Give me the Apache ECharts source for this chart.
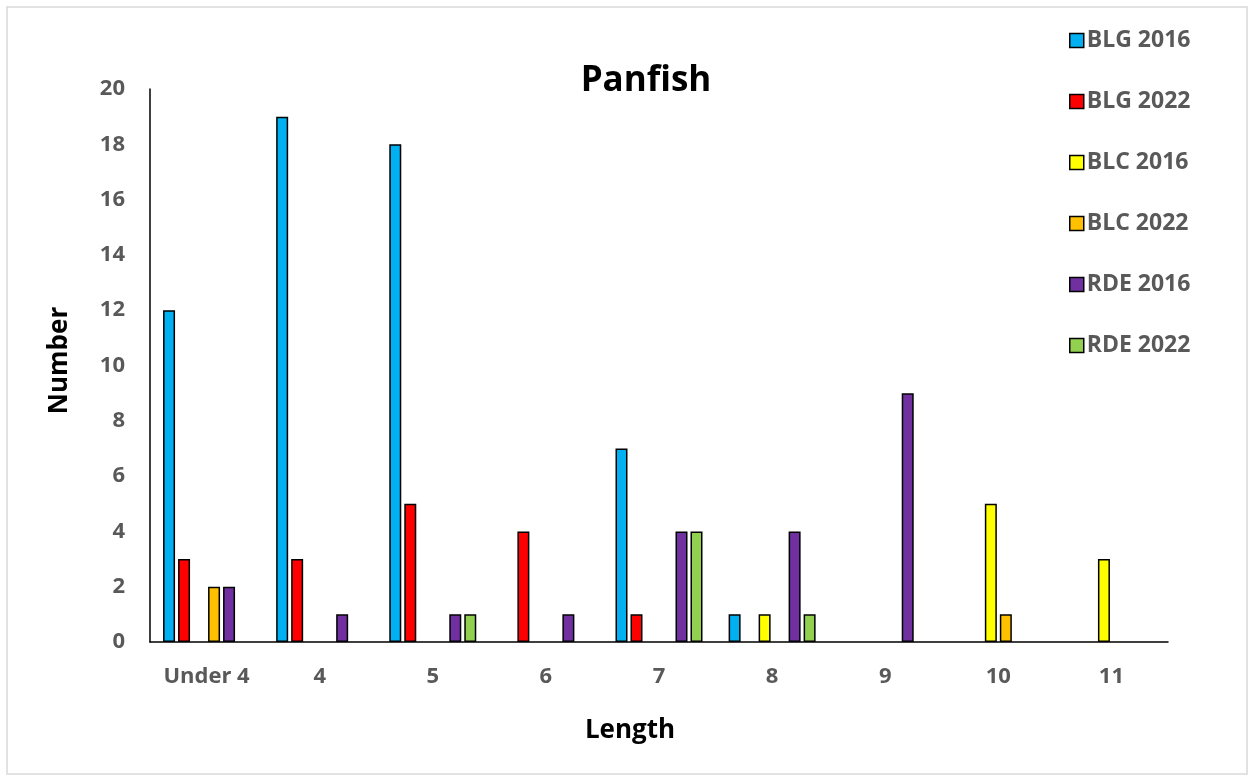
<!DOCTYPE html>
<html>
<head>
<meta charset="utf-8">
<script src="https://cdn.jsdelivr.net/npm/echarts@6/dist/echarts.min.js"></script>
<style>html,body{margin:0;padding:0;background:#fff;}#c{width:1253px;height:781px;}</style>
</head>
<body>
<div id="c"></div>
<script>
const categories = ['Under 4', '4', '5', '6', '7', '8', '9', '10', '11'];
const seriesNames = ['BLG 2016', 'BLG 2022', 'BLC 2016', 'BLC 2022', 'RDE 2016', 'RDE 2022'];
const blg2016 = [12, 19, 18, 0, 7, 1, 0, 0, 0];
const blg2022 = [3, 3, 5, 4, 1, 0, 0, 0, 0];
const blc2016 = [0, 0, 0, 0, 0, 1, 0, 5, 3];
const blc2022 = [2, 0, 0, 0, 0, 0, 0, 1, 0];
const rde2016 = [2, 1, 1, 1, 4, 4, 9, 0, 0];
const rde2022 = [0, 0, 1, 0, 4, 1, 0, 0, 0];
const colors = ['#00b0f0', '#ff0000', '#ffff00', '#ffc000', '#7030a0', '#92d050'];
const values = [blg2016, blg2022, blc2016, blc2022, rde2016, rde2022];

const font = '"Open Sans", "Noto Sans", sans-serif';
const chart = echarts.init(document.getElementById('c'));
chart.setOption({
  animation: false,
  color: colors,
  graphic: [{
    type: 'rect', shape: {x: 7, y: 7, width: 1240, height: 767},
    style: {fill: 'none', stroke: '#d9d9d9', lineWidth: 1.5}, silent: true
  }],
  title: {
    text: 'Panfish', left: 641, top: 59, textAlign: 'center',
    textStyle: {fontFamily: font, fontWeight: 'bold', fontSize: 35, color: '#000'}
  },
  legend: {
    orient: 'vertical', left: 1064, top: 22,
    itemWidth: 14, itemHeight: 14, itemGap: 34,
    icon: 'rect',
    itemStyle: {borderColor: '#000', borderWidth: 1.5},
    textStyle: {fontFamily: font, fontWeight: 'bold', fontSize: 23, color: '#595959', lineHeight: 27, padding: [0, 0, 0, -2]},
    data: seriesNames
  },
  grid: {left: 150, right: 85, top: 89, bottom: 139, containLabel: false},
  xAxis: {
    type: 'category', data: categories,
    name: 'Length', nameLocation: 'middle', nameGap: 76,
    nameTextStyle: {fontFamily: font, fontWeight: 'bold', fontSize: 26, color: '#000', padding: [0, 58, 0, 0]},
    axisLine: {lineStyle: {color: '#000', width: 1.5}},
    axisTick: {show: false},
    axisLabel: {fontFamily: font, fontWeight: 'bold', fontSize: 22, color: '#595959', margin: 24}
  },
  yAxis: {
    type: 'value', min: 0, max: 20, interval: 2,
    name: 'Number', nameLocation: 'middle', nameGap: 77, nameRotate: 90,
    nameTextStyle: {fontFamily: font, fontWeight: 'bold', fontSize: 26, color: '#000', padding: [0, 0, 0, 10]},
    axisLine: {show: true, lineStyle: {color: '#000', width: 1.5}},
    axisTick: {show: false},
    splitLine: {show: false},
    axisLabel: {fontFamily: font, fontWeight: 'bold', fontSize: 22, color: '#595959', margin: 25}
  },
  series: seriesNames.map((n, i) => ({
    name: n, type: 'bar',
    data: values[i].map(v => v === 0 ? {value: 0, itemStyle: {borderWidth: 0}} : v),
    barWidth: 12, barGap: '25%',
    itemStyle: {color: colors[i], borderColor: '#000', borderWidth: 1.5}
  }))
});
</script>
</body>
</html>
